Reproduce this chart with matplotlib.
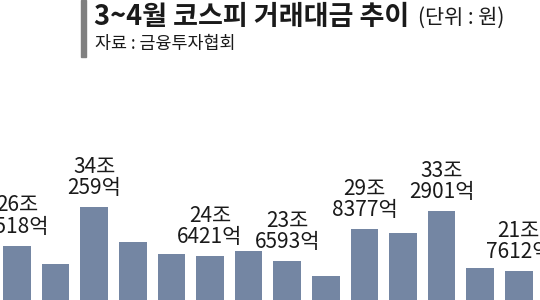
import matplotlib
matplotlib.use("Agg")
import matplotlib.pyplot as plt
from matplotlib.patches import Rectangle

plt.rcParams["font.family"] = ["Noto Sans CJK KR", "DejaVu Sans"]

# daily KOSPI trading value, 조 won (unlabeled bars)
values = [26.6518, 23.18, 34.0259, 27.39, 25.10, 24.6421, 25.67,
          23.6593, 20.88, 29.8377, 29.12, 33.2901, 22.41, 21.7612]
labels = {0: "26조\n6518억", 2: "34조\n259억", 5: "24조\n6421억",
          7: "23조\n6593억", 9: "29조\n8377억", 11: "33조\n2901억", 13: "21조\n7612억"}

W, H = 540, 300
fig = plt.figure(figsize=(W / 100, H / 100), dpi=100)
fig.patch.set_facecolor("white")

# bars run off the bottom of the crop; baseline sits ~85px below the image
px_per_unit = 5.22
base_px = 385
ax_top_px = 120
ax = fig.add_axes([0, 0, 1, 1 - ax_top_px / H])
ax.set_ylim((base_px - H) / px_per_unit, (base_px - ax_top_px) / px_per_unit)
step = 38.6
ax.set_xlim(-17 / step, (W - 17) / step)
ax.axis("off")

xs = list(range(len(values)))
ax.bar(xs, values, width=0.71, color="#7486a3")
for i, txt in labels.items():
    ax.annotate(txt, (xs[i], values[i]), xytext=(0, 6), textcoords="offset points",
                ha="center", va="bottom", fontsize=15, fontweight="medium",
                linespacing=0.95, color="#1a1a1a", annotation_clip=False)

# title block
fig.patches.append(Rectangle((81 / W, 1 - 57 / H), 5 / W, 57 / H,
                             transform=fig.transFigure, color="#808080"))
fig.text(94 / W, 1 - 17 / H, "3~4월 코스피 거래대금 추이", fontsize=19.5, fontweight="bold",
         va="center", ha="left", color="#1a1a1a")
fig.text(418 / W, 1 - 18 / H, "(단위 : 원)", fontsize=15, va="center", ha="left",
         color="#1a1a1a")
fig.text(95 / W, 1 - 44 / H, "자료 : 금융투자협회", fontsize=12.5, va="center", ha="left",
         color="#1a1a1a")

fig.savefig("out.png", dpi=100, facecolor="white")
